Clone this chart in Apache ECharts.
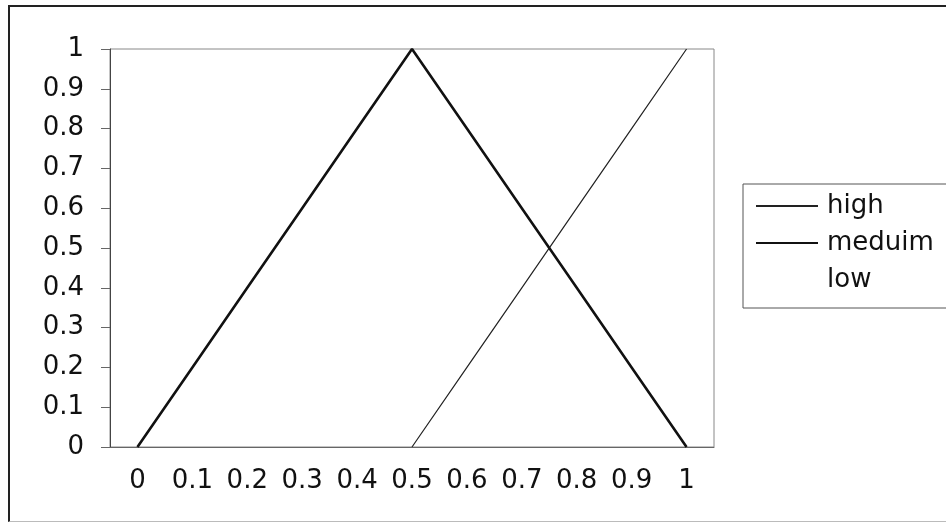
<!DOCTYPE html>
<html>
<head>
<meta charset="utf-8">
<script src="https://cdn.jsdelivr.net/npm/echarts@6/dist/echarts.min.js"></script>
<style>
  html, body { margin: 0; padding: 0; background: #fff; }
  #chart { width: 946px; height: 525px; position: relative; }
  .frame {
    position: absolute; left: 8px; top: 5px; width: 960px; height: 514px;
    border-left: 2px solid #222; border-top: 2px solid #222; border-bottom: 1px solid #bbb;
    pointer-events: none;
  }
</style>
</head>
<body>
<div id="chart"></div>
<script>
const categories = ['0', '0.1', '0.2', '0.3', '0.4', '0.5', '0.6', '0.7', '0.8', '0.9', '1'];
const highValues = [null, null, null, null, null, 0, 0.2, 0.4, 0.6, 0.8, 1];
const mediumValues = [0, 0.2, 0.4, 0.6, 0.8, 1, 0.8, 0.6, 0.4, 0.2, 0];
const lowValues = [];
const seriesNames = ['high', 'meduim', 'low'];

const font = 'DejaVu Sans';
const labelStyle = { color: '#111', fontFamily: font, fontSize: 26 };

const chart = echarts.init(document.getElementById('chart'));
chart.setOption({
  animation: false,
  backgroundColor: '#fff',
  grid: {
    left: 110, top: 49, right: 232, bottom: 78,
    show: true, borderColor: '#888', borderWidth: 1
  },
  legend: {
    orient: 'vertical',
    left: 743, top: 184,
    padding: [9, 40, 15, 12],
    itemGap: 11,
    itemWidth: 62,
    itemHeight: 14,
    borderColor: '#555',
    borderWidth: 1,
    data: seriesNames,
    itemStyle: { opacity: 0 },
    textStyle: { ...labelStyle, padding: [0, 0, 0, 4] }
  },
  xAxis: {
    type: 'category',
    data: categories,
    boundaryGap: true,
    axisLine: { lineStyle: { color: '#666', width: 1 } },
    axisTick: { length: 8, lineStyle: { color: '#666' } },
    axisLabel: { ...labelStyle, margin: 21, interval: 0 }
  },
  yAxis: {
    type: 'value',
    min: 0, max: 1, interval: 0.1,
    splitLine: { show: false },
    axisLine: { show: true, lineStyle: { color: '#444', width: 1 } },
    axisTick: { show: true, length: 9, lineStyle: { color: '#666' } },
    axisLabel: { ...labelStyle, margin: 26 }
  },
  series: [
    {
      name: 'high', type: 'line', data: highValues, symbol: 'none',
      lineStyle: { color: '#222', width: 1.2 }, itemStyle: { color: '#222' }
    },
    {
      name: 'meduim', type: 'line', data: mediumValues, symbol: 'none',
      lineStyle: { color: '#111', width: 2.6 }, itemStyle: { color: '#111' }
    },
    {
      name: 'low', type: 'line', data: lowValues, symbol: 'none',
      lineStyle: { color: 'transparent', width: 1 }, itemStyle: { color: 'transparent' }
    }
  ]
});
</script>
<div class="frame"></div>
</body>
</html>
